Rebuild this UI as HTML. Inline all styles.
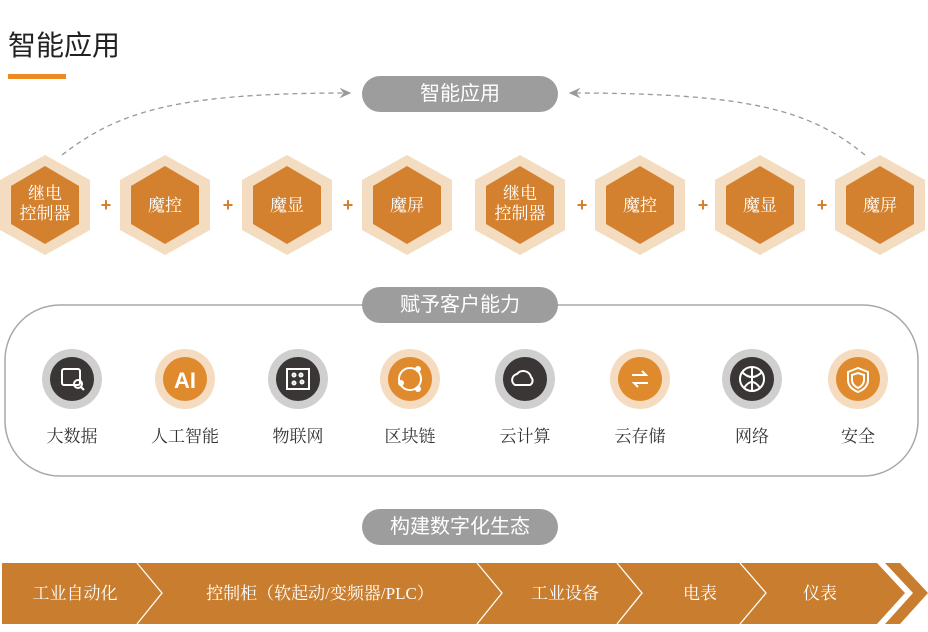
<!DOCTYPE html>
<html><head><meta charset="utf-8"><style>
body{margin:0;width:928px;height:632px;background:#fff;position:relative;overflow:hidden;font-family:"Liberation Sans","Noto Sans CJK SC",sans-serif}
.a{position:absolute}
.pill{position:absolute;left:362px;width:196px;height:36px;border-radius:18px;background:#9d9d9d;color:#fff;font-size:20px;text-align:center;line-height:36px;font-family:"Liberation Sans","Noto Sans CJK SC",sans-serif}
.lbl{position:absolute;top:422px;width:120px;text-align:center;font-size:17px;color:#333;font-family:"Liberation Serif","Noto Serif CJK SC",serif}
.ct{position:absolute;top:563px;height:61px;line-height:61px;color:#fff;font-size:17px;text-align:center;font-family:"Liberation Serif","Noto Serif CJK SC",serif}
</style></head><body>
<div class="a" style="left:8px;top:24px;font-size:28px;color:#222">智能应用</div>
<div class="a" style="left:8px;top:74px;width:58px;height:5px;background:#ee8a22"></div>
<svg class="a" style="left:0;top:0" width="928" height="632">
<defs><marker id="ar" markerWidth="10" markerHeight="10" refX="8" refY="5" orient="auto"><path d="M0,1 L9,5 L0,9 L3,5z" fill="#999"/></marker></defs>
<path d="M62,155 C120,110 180,93 350,93" fill="none" stroke="#999" stroke-width="1.3" stroke-dasharray="5,4" marker-end="url(#ar)"/>
<path d="M865,155 C810,110 750,93 570,93" fill="none" stroke="#999" stroke-width="1.3" stroke-dasharray="5,4" marker-end="url(#ar)"/>
<rect x="5" y="305" width="913" height="171" rx="55" fill="none" stroke="#a8a8a8" stroke-width="1.5"/>
<g id="hexes">
</g>
<!-- hexagons -->
<g font-family="Liberation Serif, Noto Serif CJK SC, serif" fill="#fff" font-size="17" text-anchor="middle">
</g>
</svg>
<svg class="a" style="left:0;top:0" width="928" height="632" id="s2">
<g>
<!-- hex template: outer w90 h100, inner w70 h78 -->
<g transform="translate(45,205)"><polygon points="0,-50 45,-25 45,25 0,50 -45,25 -45,-25" fill="#f3dcc0"/><polygon points="0,-39 34,-19 34,19 0,39 -34,19 -34,-19" fill="#d3812f"/></g>
<g transform="translate(165,205)"><polygon points="0,-50 45,-25 45,25 0,50 -45,25 -45,-25" fill="#f3dcc0"/><polygon points="0,-39 34,-19 34,19 0,39 -34,19 -34,-19" fill="#d3812f"/></g>
<g transform="translate(287,205)"><polygon points="0,-50 45,-25 45,25 0,50 -45,25 -45,-25" fill="#f3dcc0"/><polygon points="0,-39 34,-19 34,19 0,39 -34,19 -34,-19" fill="#d3812f"/></g>
<g transform="translate(407,205)"><polygon points="0,-50 45,-25 45,25 0,50 -45,25 -45,-25" fill="#f3dcc0"/><polygon points="0,-39 34,-19 34,19 0,39 -34,19 -34,-19" fill="#d3812f"/></g>
<g transform="translate(520,205)"><polygon points="0,-50 45,-25 45,25 0,50 -45,25 -45,-25" fill="#f3dcc0"/><polygon points="0,-39 34,-19 34,19 0,39 -34,19 -34,-19" fill="#d3812f"/></g>
<g transform="translate(640,205)"><polygon points="0,-50 45,-25 45,25 0,50 -45,25 -45,-25" fill="#f3dcc0"/><polygon points="0,-39 34,-19 34,19 0,39 -34,19 -34,-19" fill="#d3812f"/></g>
<g transform="translate(760,205)"><polygon points="0,-50 45,-25 45,25 0,50 -45,25 -45,-25" fill="#f3dcc0"/><polygon points="0,-39 34,-19 34,19 0,39 -34,19 -34,-19" fill="#d3812f"/></g>
<g transform="translate(880,205)"><polygon points="0,-50 45,-25 45,25 0,50 -45,25 -45,-25" fill="#f3dcc0"/><polygon points="0,-39 34,-19 34,19 0,39 -34,19 -34,-19" fill="#d3812f"/></g>
</g>
<g font-family="Liberation Serif, Noto Serif CJK SC, serif" fill="#fff" font-size="17" text-anchor="middle">
<text x="45" y="199">继电</text><text x="45" y="219">控制器</text>
<text x="165" y="211">魔控</text><text x="287" y="211">魔显</text><text x="407" y="211">魔屏</text>
<text x="520" y="199">继电</text><text x="520" y="219">控制器</text>
<text x="640" y="211">魔控</text><text x="760" y="211">魔显</text><text x="880" y="211">魔屏</text>
</g>
<g fill="#d3812f" font-size="18" font-weight="bold" text-anchor="middle" font-family="Liberation Sans, sans-serif">
<text x="106" y="211">+</text><text x="228" y="211">+</text><text x="348" y="211">+</text>
<text x="582" y="211">+</text><text x="703" y="211">+</text><text x="822" y="211">+</text>
</g>
<!-- icon circles -->
<g>
<circle cx="72" cy="379" r="30" fill="#cfcfcf"/><circle cx="72" cy="379" r="22" fill="#3a3635"/>
<circle cx="185" cy="379" r="30" fill="#f5dcc0"/><circle cx="185" cy="379" r="22" fill="#e08a2e"/>
<circle cx="298" cy="379" r="30" fill="#cfcfcf"/><circle cx="298" cy="379" r="22" fill="#3a3635"/>
<circle cx="410" cy="379" r="30" fill="#f5dcc0"/><circle cx="410" cy="379" r="22" fill="#e08a2e"/>
<circle cx="525" cy="379" r="30" fill="#cfcfcf"/><circle cx="525" cy="379" r="22" fill="#3a3635"/>
<circle cx="640" cy="379" r="30" fill="#f5dcc0"/><circle cx="640" cy="379" r="22" fill="#e08a2e"/>
<circle cx="752" cy="379" r="30" fill="#cfcfcf"/><circle cx="752" cy="379" r="22" fill="#3a3635"/>
<circle cx="858" cy="379" r="30" fill="#f5dcc0"/><circle cx="858" cy="379" r="22" fill="#e08a2e"/>
</g>
<g stroke="#fff" stroke-width="2" fill="none">
<rect x="62" y="369" width="18" height="16" rx="2"/><circle cx="78" cy="384" r="4"/><line x1="81" y1="387" x2="84" y2="390"/>
<rect x="287" y="369" width="22" height="20"/><circle cx="294" cy="375" r="1.5"/><circle cx="301" cy="375" r="1.5"/><circle cx="294" cy="383" r="1.5"/><circle cx="302" cy="382" r="1.5"/>
<circle cx="410" cy="379" r="11"/>
<path d="M515,385 a6,6 0 0 1 2,-11 a8,8 0 0 1 14,3 a5,5 0 0 1 -1,8z"/>
<path d="M632,375 h14 l-4,-4 M648,383 h-14 l4,4"/>
<circle cx="752" cy="379" r="12"/><path d="M742,372 q10,10 20,0 M744,388 q8,-12 16,0 M752,367 v24"/>
<path d="M858,368 l10,4 v8 q0,8 -10,12 q-10,-4 -10,-12 v-8z"/><path d="M858,373 l6,2 v5 q0,5 -6,8 q-6,-3 -6,-8 v-5z"/>
</g>
<g fill="#fff"><circle cx="418" cy="369" r="3"/><circle cx="401" cy="383" r="3"/><circle cx="418" cy="389" r="3"/></g>
<text x="185" y="388" fill="#fff" font-size="22" font-weight="bold" text-anchor="middle" font-family="Liberation Sans, sans-serif">AI</text>
<!-- chevron bar -->
<polygon points="2,563 877,563 905,593 877,624 2,624" fill="#c97d2e"/>
<polygon points="885,563 900,563 928,593 900,624 885,624 913,593" fill="#c97d2e"/>
<g stroke="#fff" stroke-width="1.3" fill="none">
<polyline points="137,563 162,593 137,624"/>
<polyline points="477,563 502,593 477,624"/>
<polyline points="617,563 642,593 617,624"/>
<polyline points="740,563 766,593 740,624"/>
</g>
</svg>
<div class="pill" style="top:76px">智能应用</div>
<div class="pill" style="top:287px">赋予客户能力</div>
<div class="pill" style="top:509px">构建数字化生态</div>
<div class="lbl" style="left:12px">大数据</div>
<div class="lbl" style="left:125px">人工智能</div>
<div class="lbl" style="left:238px">物联网</div>
<div class="lbl" style="left:350px">区块链</div>
<div class="lbl" style="left:465px">云计算</div>
<div class="lbl" style="left:580px">云存储</div>
<div class="lbl" style="left:692px">网络</div>
<div class="lbl" style="left:798px">安全</div>
<div class="ct" style="left:10px;width:130px">工业自动化</div>
<div class="ct" style="left:160px;width:320px">控制柜（软起动/变频器/PLC）</div>
<div class="ct" style="left:500px;width:130px">工业设备</div>
<div class="ct" style="left:640px;width:120px">电表</div>
<div class="ct" style="left:760px;width:120px">仪表</div>
</body></html>
